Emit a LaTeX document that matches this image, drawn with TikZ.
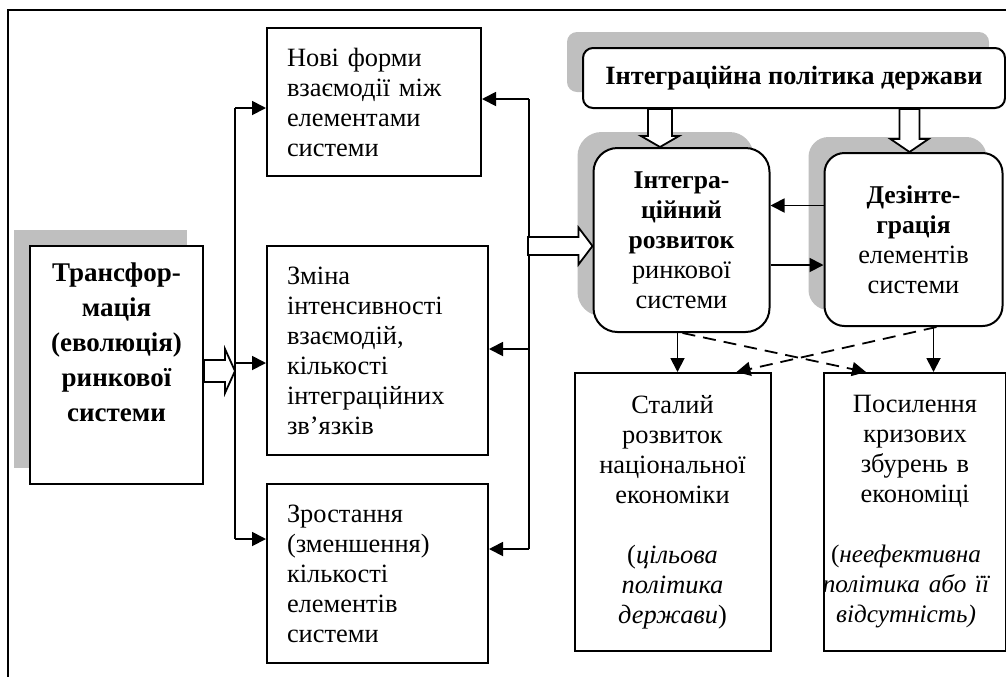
\documentclass[tikz,border=0pt]{standalone}
\usepackage{fontspec}
\setmainfont{Liberation Serif}
\usetikzlibrary{arrows.meta,shadows,calc}

% hollow arrow to the right: start, tip, half shaft, half head, head length
\newcommand{\hollowright}[5]{%
  \draw[hollow] let \p1=(#1), \p2=(#2) in
    (\x1,\y1+#3) -- (\x2-#5,\y1+#3) -- (\x2-#5,\y1+#4) -- (\x2,\y1)
    -- (\x2-#5,\y1-#4) -- (\x2-#5,\y1-#3) -- (\x1,\y1-#3) -- cycle;}
% hollow arrow downwards
\newcommand{\hollowdown}[5]{%
  \draw[hollow] let \p1=(#1), \p2=(#2) in
    (\x1-#3,\y1) -- (\x1-#3,\y2+#5) -- (\x1-#4,\y2+#5) -- (\x1,\y2)
    -- (\x1+#4,\y2+#5) -- (\x1+#3,\y2+#5) -- (\x1+#3,\y1) -- cycle;}
\newcommand{\hd}[1]{\textbf{\fontsize{12.8}{15}\selectfont #1}}
\newcommand{\ital}[1]{\hspace*{-9pt}{\itshape\fontsize{12.6}{15}\selectfont #1}}

\begin{document}
\begin{tikzpicture}[x=0.5pt,y=-0.5pt,
    box/.style={draw,line width=1pt,inner sep=0pt,fill=white,font=\fontsize{13.2}{15}\selectfont},
    listbox/.style={box,align=left,inner xsep=10pt},
    midbox/.style={box,align=center},
    grayshadow/.style={drop shadow={shadow xshift=-8pt,shadow yshift=8pt,fill=black!25,opacity=1}},
    arr/.style={line width=0.9pt,-{Triangle[length=7pt,width=7pt]}},
    line/.style={line width=0.9pt},
    hollow/.style={line width=0.9pt,fill=white,line join=miter}]
    \useasboundingbox (0,0) rectangle (1006,676);
    \draw[line] (8,10) rectangle (1040,700);

    % left part
    \node[box,grayshadow,minimum width=86.5pt,minimum height=119pt] (transf) at (116.5,365)
        {\parbox[c][102pt][t]{84pt}{\centering\bfseries\fontsize{13.5}{17.5}\selectfont
        Трансфор-\\мація\\(еволюція)\\ринкової\\системи}};
    \node[listbox,text width=87pt,minimum height=74pt] (nove) at (374,102)
        {Нові форми\\взаємодії між\\елементами\\системи};
    \node[listbox,text width=90.5pt,minimum height=104.5pt] (zmina) at (377.5,350.5)
        {Зміна\\інтенсивності\\взаємодій,\\кількості\\інтеграційних\\зв’язків};
    \node[listbox,text width=90.5pt,minimum height=89.5pt] (zrost) at (377.5,573.5)
        {Зростання\\(зменшення)\\кількості\\елементів\\системи};

    % right part
    \node[box,rounded corners=5pt,grayshadow,minimum width=211pt,minimum height=30pt,
        font=\bfseries\fontsize{13.2}{15}\selectfont] (policy) at (794,78)
        {Інтеграційна політика держави};
    \node[midbox,rounded corners=12pt,grayshadow,text width=88pt,minimum height=92pt] (integ) at (681.5,240)
        {\hd{Інтегра-}\\\hd{ційний}\\\hd{розвиток}\\ринкової\\системи};
    \node[midbox,rounded corners=10pt,grayshadow,text width=89pt,minimum height=86.5pt] (dez) at (913.5,239.5)
        {\hd{Дезінте-}\\\hd{грація}\\елементів\\системи};
    \node[midbox,text width=98pt,minimum height=139pt] (stal) at (672.5,512)
        {Сталий\\розвиток\\національної\\економіки\\[15pt](\textit{цільова}\\\textit{політика}\\\textit{держави})};
    \node[midbox,text width=91pt,minimum height=139pt] (posyl) at (915,512)
        {Посилення\\кризових\\збурень в\\економіці\\[15pt]\ital{{\upshape(}неефективна}\\\ital{політика або її}\\\ital{відсутність)}};

    % left connectors
    \coordinate (jl1) at (235,108);
    \coordinate (jl2) at (235,363);
    \coordinate (jl3) at (235,539);
    \draw[line] (jl1) -- (jl3);
    \draw[arr] (jl1) -- (jl1 -| nove.west);
    \draw[arr] (jl2) -- (jl2 -| zmina.west);
    \draw[arr] (jl3) -- (jl3 -| zrost.west);
    \hollowright{[yshift=-3pt]transf.east}{jl1 |- transf.east}{5.5pt}{11pt}{5pt}

    % right connectors
    \coordinate (jr1) at (529,99);
    \coordinate (jr2) at (529,349);
    \coordinate (jr3) at (529,549);
    \coordinate (ha) at (528,246);
    \draw[line] (jr1) -- (jr3);
    \draw[arr] (jr1) -- (jr1 -| nove.east);
    \draw[arr] (jr2) -- (jr2 -| zmina.east);
    \draw[arr] (jr3) -- (jr3 -| zrost.east);
    \hollowright{ha}{ha -| integ.west}{4.5pt}{9.25pt}{7pt}

    % policy arrows
    \coordinate (pa) at ([xshift=-67pt]policy.south);
    \coordinate (pb) at ([xshift=-2pt]policy.south -| dez.north);
    \hollowdown{pa}{pa |- integ.north}{6pt}{9.5pt}{5.5pt}
    \hollowdown{pb}{pb |- dez.north}{5pt}{9.5pt}{6.5pt}

    % between integration and desintegration
    \coordinate (d1) at ([yshift=17pt]dez.west);
    \coordinate (i1) at ([yshift=-12.5pt]integ.east);
    \draw[arr] (d1) -- (d1 -| integ.east);
    \draw[arr] (i1) -- (i1 -| dez.west);

    % results
    \coordinate (i2) at ([xshift=-2pt]integ.south);
    \coordinate (d2) at ([xshift=10pt]dez.south);
    \draw[arr] (i2) -- (i2 |- stal.north);
    \draw[arr] (d2) -- (d2 |- posyl.north);
    \draw[arr,dash pattern=on 6.5pt off 4pt] ([xshift=0.5pt]integ.south) -- ([xshift=21.5pt]posyl.north west);
    \draw[arr,dash pattern=on 6.5pt off 4pt] ([xshift=11.5pt]dez.south) -- ([xshift=-17.5pt]stal.north east);
\end{tikzpicture}
\end{document}
